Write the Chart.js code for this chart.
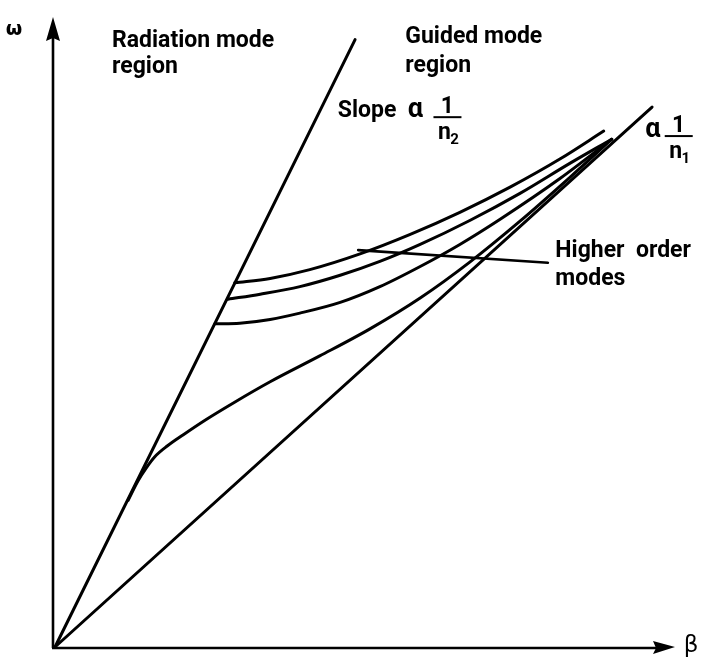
<!DOCTYPE html>
<html>
<head>
<meta charset="utf-8">
<title>Dispersion diagram</title>
<script src="https://cdn.jsdelivr.net/npm/chart.js@4.4.1/dist/chart.umd.min.js"></script>
<style>
  html, body { margin: 0; padding: 0; background: #fff; }
  canvas { display: block; }
</style>
</head>
<body>
<canvas id="dispersion" width="707" height="668"></canvas>
<script>
// light lines from the origin: slope ~ 1/n2 (cladding) and ~ 1/n1 (core)
const cladLineBeta = [0, 4.84];
const cladLineOmega = [0, 9.64];
const coreLineBeta = [0, 9.63];
const coreLineOmega = [0, 8.57];

// guided modes, fundamental first
const mode1Beta = [1.18, 1.34, 1.47, 1.61, 1.81, 2.07, 2.42, 2.87, 3.47, 4.27, 5.08, 5.89, 6.69, 7.50, 8.31, 8.98];
const mode1Omega = [2.33, 2.64, 2.84, 3.02, 3.19, 3.37, 3.60, 3.87, 4.21, 4.62, 5.05, 5.54, 6.11, 6.76, 7.46, 8.06];
const mode2Beta = [2.58, 2.98, 3.47, 3.95, 4.60, 5.24, 5.89, 6.53, 7.18, 8.15, 8.98];
const mode2Omega = [5.13, 5.14, 5.20, 5.30, 5.47, 5.72, 6.04, 6.39, 6.79, 7.44, 8.06];
const mode3Beta = [2.79, 3.31, 3.95, 4.60, 5.24, 5.89, 6.69, 7.50, 8.31, 8.98];
const mode3Omega = [5.52, 5.60, 5.72, 5.90, 6.12, 6.39, 6.77, 7.20, 7.68, 8.06];
const mode4Beta = [2.90, 3.47, 4.11, 4.92, 5.73, 6.53, 7.34, 8.15, 8.85];
const mode4Omega = [5.78, 5.85, 5.99, 6.24, 6.55, 6.90, 7.30, 7.75, 8.19];

// leader line for the "Higher order modes" note
const leaderBeta = [4.89, 7.95];
const leaderOmega = [6.30, 6.10];

const ink = '#000';

function points(xs, ys) {
  return xs.map((x, i) => ({ x: x, y: ys[i] }));
}

function curve(xs, ys, smooth, width) {
  return {
    data: points(xs, ys),
    showLine: true,
    borderColor: ink,
    borderWidth: width || 3,
    borderCapStyle: 'round',
    borderJoinStyle: 'round',
    pointRadius: 0,
    fill: false,
    tension: smooth ? 0.4 : 0,
    cubicInterpolationMode: smooth ? 'monotone' : 'default',
    clip: false
  };
}

const labelFont = 'bold 23px Roboto, "DejaVu Sans", sans-serif';

// axes with arrow heads plus the text notes
const annotations = {
  id: 'annotations',
  afterDraw(chart) {
    const ctx = chart.ctx;
    const xs = chart.scales.x, ys = chart.scales.y;
    const px = v => xs.getPixelForValue(v);
    const py = v => ys.getPixelForValue(v);
    const area = chart.chartArea;
    const ox = px(0), oy = py(0);

    ctx.save();
    ctx.strokeStyle = ink;
    ctx.fillStyle = ink;
    ctx.lineWidth = 2.6;
    ctx.lineCap = 'butt';

    // omega axis
    ctx.beginPath();
    ctx.moveTo(ox - 2, oy + 1);
    ctx.lineTo(ox - 2, area.top + 20);
    ctx.stroke();
    ctx.beginPath();
    ctx.moveTo(ox - 2, area.top);
    ctx.lineTo(ox - 9, area.top + 24);
    ctx.lineTo(ox - 2, area.top + 21);
    ctx.lineTo(ox + 5, area.top + 24);
    ctx.closePath();
    ctx.fill();

    // beta axis
    ctx.beginPath();
    ctx.moveTo(ox - 3, oy + 1);
    ctx.lineTo(area.right - 18, oy + 1);
    ctx.stroke();
    ctx.beginPath();
    ctx.moveTo(area.right, oy);
    ctx.lineTo(area.right - 22, oy - 6);
    ctx.lineTo(area.right - 19, oy + 1);
    ctx.lineTo(area.right - 22, oy + 7);
    ctx.closePath();
    ctx.fill();

    ctx.textAlign = 'center';
    ctx.textBaseline = 'middle';
    ctx.font = 'bold 19px "DejaVu Sans", sans-serif';
    ctx.fillText('ω', 14, area.top + 13);
    ctx.font = '23px "DejaVu Sans", sans-serif';
    ctx.fillText('β', area.right + 16, oy - 1);

    ctx.textAlign = 'left';
    ctx.textBaseline = 'alphabetic';
    ctx.font = labelFont;
    ctx.fillText('Radiation mode', px(0.92), py(9.52));
    ctx.fillText('region', px(0.92), py(9.11));
    ctx.fillText('Guided mode', px(5.65), py(9.59));
    ctx.fillText('region', px(5.65), py(9.13));
    ctx.fillText('Slope', px(4.56), py(8.41));
    ctx.fillText('Higher  order', px(8.07), py(6.19));
    ctx.fillText('modes', px(8.07), py(5.75));

    // proportional signs
    ctx.font = 'bold 27px Roboto, "DejaVu Sans", sans-serif';
    ctx.fillText('α', px(5.69), py(8.41));
    ctx.fillText('α', px(9.52), py(8.10));

    // 1 / n fractions
    function fraction(cx, barY, sub) {
      const x = px(cx), y = py(barY);
      ctx.lineWidth = 2;
      ctx.beginPath();
      ctx.moveTo(x - 14, y);
      ctx.lineTo(x + 14, y);
      ctx.stroke();
      ctx.textAlign = 'center';
      ctx.font = labelFont;
      ctx.fillText('1', x, y - 4);
      ctx.fillText('n', x - 3, y + 22);
      ctx.font = 'bold 15px Roboto, "DejaVu Sans", sans-serif';
      ctx.fillText(sub, x + 7, y + 27);
      ctx.textAlign = 'left';
    }
    fraction(6.33, 8.41, '2');
    fraction(10.06, 8.11, '1');

    ctx.restore();
  }
};

new Chart(document.getElementById('dispersion'), {
  type: 'scatter',
  data: {
    datasets: [
      curve(cladLineBeta, cladLineOmega, false),
      curve(coreLineBeta, coreLineOmega, false),
      curve(mode1Beta, mode1Omega, true),
      curve(mode2Beta, mode2Omega, true),
      curve(mode3Beta, mode3Omega, true),
      curve(mode4Beta, mode4Omega, true),
      curve(leaderBeta, leaderOmega, false, 2.6)
    ]
  },
  options: {
    responsive: false,
    animation: false,
    layout: { padding: { left: 55, right: 32, top: 17, bottom: 21 } },
    plugins: { legend: { display: false }, tooltip: { enabled: false } },
    scales: {
      x: { type: 'linear', min: 0, max: 10, display: false },
      y: { type: 'linear', min: 0, max: 10, display: false }
    }
  },
  plugins: [annotations]
});
</script>
</body>
</html>
